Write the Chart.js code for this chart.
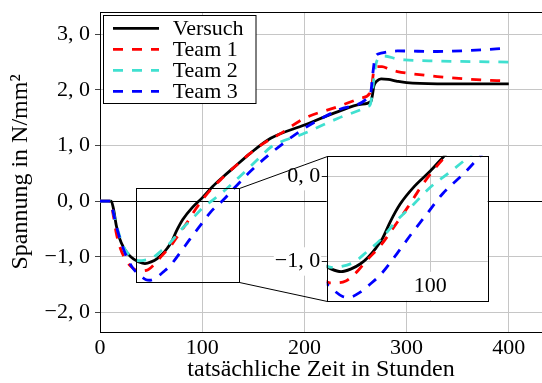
<!DOCTYPE html>
<html>
<head>
<meta charset="utf-8">
<script src="https://cdn.jsdelivr.net/npm/chart.js@4/dist/chart.umd.min.js"></script>
<style>
  html, body { margin: 0; padding: 0; background: #fff; }
  #wrap { position: relative; width: 542px; height: 383px; overflow: hidden; }
  #main { position: absolute; left: 0; top: 0; }
  #zoom { position: absolute; left: 230px; top: 145px; }
</style>
</head>
<body>
<div id="wrap">
  <canvas id="main" width="542" height="383" style="width:542px;height:383px"></canvas>
  <canvas id="zoom" width="265" height="162" style="width:265px;height:162px"></canvas>
</div>
<script>
// Measured stress (Versuch) and the three team simulations, hours vs N/mm²
const versuchHours  = [0, 11, 13, 16, 19, 23, 28, 33, 38, 44, 50, 56, 61, 66, 70, 75, 81, 90, 100, 110, 120, 130, 147, 167, 200, 233, 255, 265, 266.5, 268, 271, 275, 282, 290, 300, 330, 400];
const versuchStress = [0, 0, -0.12, -0.44, -0.66, -0.83, -0.96, -1.04, -1.09, -1.12, -1.09, -1.03, -0.95, -0.84, -0.73, -0.53, -0.33, -0.12, 0.06, 0.26, 0.43, 0.59, 0.86, 1.13, 1.37, 1.61, 1.74, 1.79, 1.90, 2.07, 2.16, 2.20, 2.19, 2.16, 2.13, 2.11, 2.11];

const team1Hours  = [0, 10, 13, 16, 20, 26, 32, 37, 42, 47, 50, 55, 60, 69, 77, 86, 94, 102, 110, 120, 130, 143, 160, 177, 200, 233, 255, 264, 266, 268, 272, 276, 283, 291, 310, 330, 363, 400];
const team1Stress = [0, 0, -0.25, -0.58, -0.85, -1.08, -1.20, -1.25, -1.25, -1.23, -1.19, -1.10, -0.99, -0.81, -0.60, -0.36, -0.13, 0.07, 0.24, 0.42, 0.59, 0.80, 1.04, 1.22, 1.49, 1.70, 1.85, 1.94, 2.08, 2.35, 2.42, 2.42, 2.37, 2.33, 2.28, 2.24, 2.19, 2.16];

const team2Hours  = [0, 9, 11, 14, 18, 22, 27, 33, 38, 44, 52, 60, 69, 79, 90, 100, 111, 123, 140, 157, 167, 200, 233, 262, 264.5, 266.5, 268.5, 270.5, 273, 278, 290, 298, 330, 400];
const team2Stress = [0, 0, -0.05, -0.27, -0.55, -0.78, -0.93, -1.03, -1.07, -1.06, -1.01, -0.89, -0.74, -0.52, -0.32, -0.13, 0.03, 0.21, 0.50, 0.80, 0.97, 1.22, 1.49, 1.70, 1.74, 1.95, 2.30, 2.50, 2.58, 2.61, 2.56, 2.54, 2.52, 2.50];

const team3Hours  = [0, 10, 13, 16, 20, 26, 32, 39, 45, 49, 56, 62, 69, 79, 88, 98, 108, 121, 131, 148, 167, 200, 233, 263, 265, 267, 269.5, 275, 291, 330, 363, 400];
const team3Stress = [0, 0, -0.20, -0.45, -0.70, -1.00, -1.20, -1.33, -1.41, -1.42, -1.36, -1.27, -1.15, -0.91, -0.68, -0.44, -0.20, 0.03, 0.23, 0.55, 0.86, 1.31, 1.64, 1.88, 1.95, 2.30, 2.60, 2.66, 2.70, 2.69, 2.71, 2.75];

const seriesLabels = ['Versuch', 'Team 1', 'Team 2', 'Team 3'];

// Tick values of the main plot and of the magnified detail
const xTickValues = [0, 100, 200, 300, 400];
const yTickValues = [-2, -1, 0, 1, 2, 3];
const zoomXTickValues = [100];
const zoomYTickValues = [-1, 0];

// Axis ranges
const xRange = [0, 432.5];
const yRange = [-2.35, 3.4];
const zoomHours = [35, 136];
const zoomStress = [-1.46, 0.24];

const FONT = "'Liberation Serif', 'Times New Roman', serif";
const GRID = '#c6c6c6';

const styles = [
  { color: '#000000', dash: [] },
  { color: '#ff0000', dash: [10, 9] },
  { color: '#40e0d0', dash: [10, 9] },
  { color: '#0000ff', dash: [10, 9] }
];
const hourSets = [versuchHours, team1Hours, team2Hours, team3Hours];
const stressSets = [versuchStress, team1Stress, team2Stress, team3Stress];

function points(xs, ys) { return xs.map((x, i) => ({ x: x, y: ys[i] })); }
function makeDatasets() {
  return seriesLabels.map((label, i) => ({
    label: label,
    data: points(hourSets[i], stressSets[i]),
    borderColor: styles[i].color,
    borderWidth: 2.8,
    borderDash: styles[i].dash,
    pointRadius: 0,
    fill: false,
    cubicInterpolationMode: 'monotone',
    order: seriesLabels.length - 1 - i
  }));
}
function germanNumber(v) {
  const s = Math.abs(v).toFixed(1).replace('.', ', ');
  return (v < 0 ? '\u2212' : '') + s;
}
function fixedTicks(values) {
  return function (scale) { scale.ticks = values.map(v => ({ value: v })); };
}
// fixed axis sizes, without the extra room the library reserves for edge labels
function fixWidth(w) {
  return function (s) { s.width = w; s.paddingTop = 0; s.paddingBottom = 0; };
}
function fixHeight(h) {
  return function (s) { s.height = h; s.paddingLeft = 0; s.paddingRight = 0; };
}
const half = v => Math.round(v) + 0.5;

// Top border, the magnified window and the legend of the main plot
const mainDecor = {
  id: 'mainDecor',
  afterDraw(chart) {
    const ctx = chart.ctx, a = chart.chartArea;
    const sx = chart.scales.x, sy = chart.scales.y;
    ctx.save();
    ctx.strokeStyle = '#000';
    ctx.lineWidth = 1;
    ctx.beginPath();
    ctx.moveTo(a.left, half(a.top));
    ctx.lineTo(a.right, half(a.top));
    ctx.stroke();

    const x0 = half(sx.getPixelForValue(zoomHours[0]));
    const x1 = half(sx.getPixelForValue(zoomHours[1]));
    const y0 = half(sy.getPixelForValue(zoomStress[1]));
    const y1 = half(sy.getPixelForValue(zoomStress[0]));
    ctx.strokeRect(x0, y0, x1 - x0, y1 - y0);

    // legend
    const lx = 103.5, ly = 15.5, lw = 152.5, lh = 88;
    ctx.fillStyle = '#fff';
    ctx.fillRect(lx, ly, lw, lh);
    ctx.strokeStyle = '#000';
    ctx.lineWidth = 1;
    ctx.setLineDash([]);
    ctx.strokeRect(lx, ly, lw, lh);
    ctx.font = '22px ' + FONT;
    ctx.textBaseline = 'alphabetic';
    ctx.textAlign = 'left';
    chart.data.datasets.forEach((ds, i) => {
      const cy = 28.3 + i * 21;
      ctx.strokeStyle = ds.borderColor;
      ctx.lineWidth = ds.borderWidth;
      ctx.setLineDash(ds.borderDash);
      ctx.beginPath();
      ctx.moveTo(113, cy);
      ctx.lineTo(159, cy);
      ctx.stroke();
      ctx.setLineDash([]);
      ctx.fillStyle = '#000';
      ctx.fillText(ds.label, 172.7, cy + 6.5);
    });
    ctx.restore();
  }
};

const mainChart = new Chart(document.getElementById('main'), {
  type: 'line',
  data: { datasets: makeDatasets() },
  plugins: [mainDecor],
  options: {
    responsive: false,
    animation: false,
    events: [],
    layout: { padding: { top: 12, right: 0, bottom: 0, left: 0 } },
    plugins: { legend: { display: false }, tooltip: { enabled: false } },
    scales: {
      x: {
        type: 'linear',
        min: xRange[0], max: xRange[1],
        afterBuildTicks: fixedTicks(xTickValues),
        afterFit: fixHeight(51),
        grid: { color: GRID, lineWidth: 1, drawTicks: false },
        border: { color: '#000', width: 1 },
        ticks: { color: '#000', padding: 3, maxRotation: 0, autoSkip: false, font: { family: FONT, size: 22 } },
        title: {
          display: true, text: 'tatsächliche Zeit in Stunden', color: '#000',
          font: { family: FONT, size: 24, lineHeight: 1 }, padding: { top: 0, bottom: 1 }
        }
      },
      y: {
        type: 'linear',
        min: yRange[0], max: yRange[1],
        afterBuildTicks: fixedTicks(yTickValues),
        afterFit: fixWidth(100),
        grid: {
          color: c => (c.tick && c.tick.value === 0 ? '#000' : GRID),
          lineWidth: 1, tickLength: 5, tickColor: '#444'
        },
        border: { color: '#000', width: 1 },
        ticks: { color: '#000', padding: 5, font: { family: FONT, size: 22 }, callback: v => germanNumber(v) },
        title: {
          display: true, text: 'Spannung in N/mm²', color: '#000',
          font: { family: FONT, size: 24, lineHeight: 1 }, padding: { top: 9, bottom: 0 }
        }
      }
    }
  }
});

// Magnified detail of the first 136 hours
const zoomCanvas = document.getElementById('zoom');
const zoomLeft = 230, zoomTop = 145;
const zoomDecor = {
  id: 'zoomDecor',
  beforeDraw(chart) {
    const ctx = chart.ctx, a = chart.chartArea;
    ctx.save();
    ctx.fillStyle = '#fff';
    ctx.fillRect(a.left, a.top, a.right - a.left, a.bottom - a.top);
    ctx.restore();
  },
  afterDraw(chart) {
    const ctx = chart.ctx, a = chart.chartArea;
    const sx = mainChart.scales.x, sy = mainChart.scales.y;
    ctx.save();
    ctx.strokeStyle = '#000';
    ctx.lineWidth = 1;
    ctx.strokeRect(half(a.left), half(a.top), Math.round(a.right - a.left), Math.round(a.bottom - a.top));
    const rx = half(sx.getPixelForValue(zoomHours[1])) - zoomLeft;
    const ryTop = half(sy.getPixelForValue(zoomStress[1])) - zoomTop;
    const ryBot = half(sy.getPixelForValue(zoomStress[0])) - zoomTop;
    ctx.beginPath();
    ctx.moveTo(rx, ryTop);
    ctx.lineTo(half(a.left), half(a.top));
    ctx.moveTo(rx, ryBot);
    ctx.lineTo(half(a.left), half(a.bottom));
    ctx.stroke();
    ctx.restore();
  }
};

new Chart(zoomCanvas, {
  type: 'line',
  data: { datasets: makeDatasets() },
  plugins: [zoomDecor],
  options: {
    responsive: false,
    animation: false,
    events: [],
    layout: { padding: { top: 10.7, right: 7.3, bottom: 5.3, left: 0 } },
    plugins: { legend: { display: false }, tooltip: { enabled: false } },
    scales: {
      x: {
        type: 'linear',
        min: zoomHours[0], max: zoomHours[1],
        afterBuildTicks: fixedTicks(zoomXTickValues),
        afterFit: fixHeight(1),
        grid: { color: GRID, lineWidth: 1, drawTicks: false },
        border: { display: false },
        ticks: {
          color: '#000', mirror: true, padding: 1.5, maxRotation: 0, autoSkip: false,
          font: { family: FONT, size: 22 },
          showLabelBackdrop: true, backdropColor: '#fff', backdropPadding: 1
        }
      },
      y: {
        type: 'linear',
        min: zoomStress[0], max: zoomStress[1],
        afterBuildTicks: fixedTicks(zoomYTickValues),
        afterFit: fixWidth(96.7),
        grid: { color: GRID, lineWidth: 1, tickLength: 5, tickColor: '#222' },
        border: { display: false },
        ticks: {
          color: '#000', padding: 1.5, font: { family: FONT, size: 22 },
          callback: v => germanNumber(v),
          showLabelBackdrop: true, backdropColor: '#fff', backdropPadding: 1
        }
      }
    }
  }
});
</script>
</body>
</html>
